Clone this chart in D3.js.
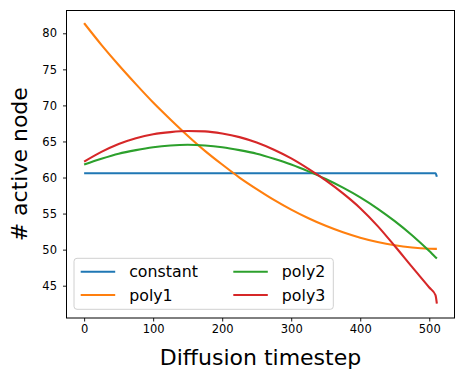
<!DOCTYPE html>
<html>
<head>
<meta charset="utf-8">
<script src="https://cdn.jsdelivr.net/npm/d3@7"></script>
<style>
  body { margin: 0; background: #fff; }
  svg text { font-family: "DejaVu Sans", sans-serif; fill: #000; }
</style>
</head>
<body>
<div id="chart"></div>
<script>
// values
const steps = [0, 25, 50, 75, 100, 125, 150, 175, 200, 225, 250, 275, 300, 325, 350, 375, 400, 425, 450, 475, 500, 509, 511];
const constantVals = [60.6, 60.6, 60.6, 60.6, 60.6, 60.6, 60.6, 60.6, 60.6, 60.6, 60.6, 60.6, 60.6, 60.6, 60.6, 60.6, 60.6, 60.6, 60.6, 60.6, 60.6, 60.6, 60.1];
const poly1Vals = [81.4, 78.4, 75.6, 72.95, 70.4, 68.05, 65.8, 63.7, 61.8, 60.0, 58.4, 56.9, 55.55, 54.35, 53.3, 52.4, 51.65, 51.05, 50.6, 50.3, 50.13, 50.1, 50.1];
const poly2Vals = [61.8, 62.6, 63.3, 63.8, 64.2, 64.45, 64.55, 64.45, 64.2, 63.8, 63.3, 62.6, 61.8, 60.85, 59.8, 58.6, 57.25, 55.7, 53.95, 52.0, 49.8, 48.95, 48.77];
const poly3Vals = [62.2, 63.55, 64.65, 65.45, 66.0, 66.3, 66.45, 66.4, 66.1, 65.6, 64.85, 63.85, 62.65, 61.2, 59.6, 57.8, 55.75, 53.3, 50.5, 47.6, 44.75, 43.7, 42.5];

const seriesNames = ["constant", "poly1", "poly2", "poly3"];
const seriesVals = [constantVals, poly1Vals, poly2Vals, poly3Vals];
const colors = ["#1f77b4", "#ff7f0e", "#2ca02c", "#d62728"];

const xTicks = [0, 100, 200, 300, 400, 500];
const yTicks = [45, 50, 55, 60, 65, 70, 75, 80];

const width = 463, height = 380;
const plotL = 66.5, plotR = 454.5, plotT = 10.5, plotB = 318;

const svg = d3.select("#chart").append("svg")
    .attr("width", width)
    .attr("height", height);

const x = d3.scaleLinear().domain([-25.55, 536.55]).range([plotL, plotR]);
const y = d3.scaleLinear().domain([40.52, 83.16]).range([plotB, plotT]);

// lines
const line = d3.line()
    .x(d => x(d[0]))
    .y(d => y(d[1]))
    .curve(d3.curveMonotoneX);

seriesVals.forEach((vals, i) => {
    svg.append("path")
        .datum(steps.map((s, j) => [s, vals[j]]))
        .attr("d", line)
        .attr("fill", "none")
        .attr("stroke", colors[i])
        .attr("stroke-width", 2.1)
        .attr("stroke-linejoin", "round");
});

// axes
const xAxis = svg.append("g")
    .attr("transform", `translate(0,${plotB})`)
    .call(d3.axisBottom(x).tickValues(xTicks).tickSize(3.5).tickPadding(3.5));
const yAxis = svg.append("g")
    .attr("transform", `translate(${plotL},0)`)
    .call(d3.axisLeft(y).tickValues(yTicks).tickSize(3.5).tickPadding(6));

[xAxis, yAxis].forEach(g => {
    g.select(".domain").remove();
    g.selectAll(".tick line").attr("stroke", "#000").attr("stroke-width", 0.9);
    g.selectAll(".tick text").style("font-size", "11.5px").attr("fill", "#000");
});

// frame
svg.append("rect")
    .attr("x", plotL).attr("y", plotT)
    .attr("width", plotR - plotL).attr("height", plotB - plotT)
    .attr("fill", "none")
    .attr("stroke", "#000")
    .attr("stroke-width", 1);

// axis labels
svg.append("text")
    .attr("x", (plotL + plotR) / 2)
    .attr("y", 365)
    .attr("text-anchor", "middle")
    .style("font-size", "22px")
    .text("Diffusion timestep");

svg.append("text")
    .attr("transform", `translate(27,${(plotT + plotB) / 2}) rotate(-90)`)
    .attr("text-anchor", "middle")
    .style("font-size", "22px")
    .text("# active node");

// legend
const legend = svg.append("g");
legend.append("rect")
    .attr("x", 74).attr("y", 258.3)
    .attr("width", 259.3).attr("height", 51)
    .attr("rx", 3)
    .attr("fill", "#fff")
    .attr("fill-opacity", 0.8)
    .attr("stroke", "#d0d0d0")
    .attr("stroke-width", 1);

const colX = [80.7, 233.3];
const rowY = [271.7, 295];
seriesNames.forEach((name, i) => {
    const cx = colX[Math.floor(i / 2)];
    const cy = rowY[i % 2];
    legend.append("line")
        .attr("x1", cx).attr("x2", cx + 34.5)
        .attr("y1", cy).attr("y2", cy)
        .attr("stroke", colors[i])
        .attr("stroke-width", 2.1);
    legend.append("text")
        .attr("x", cx + 48.5)
        .attr("y", cy)
        .attr("dy", "0.36em")
        .style("font-size", "15.8px")
        .text(name);
});
</script>
</body>
</html>
